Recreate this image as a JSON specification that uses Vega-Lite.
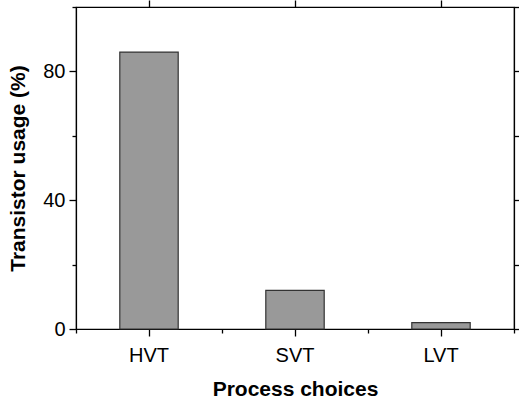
{
  "$schema": "https://vega.github.io/schema/vega-lite/v6.json",
  "width": 438,
  "height": 322,
  "autosize": {"type": "none"},
  "padding": {"left": 76, "top": 7, "right": 5, "bottom": 74},
  "background": "white",
  "config": {
    "view": {"stroke": "black", "strokeWidth": 1.2},
    "font": "Liberation Sans",
    "axis": {
      "domainColor": "black",
      "tickColor": "black",
      "tickWidth": 1.3,
      "domainWidth": 1.2,
      "labelColor": "black",
      "titleColor": "black",
      "grid": false,
      "labelFont": "Liberation Sans",
      "titleFont": "Liberation Sans"
    }
  },
  "data": {
    "values": [
      {"process": "HVT", "usage": 86},
      {"process": "SVT", "usage": 12},
      {"process": "LVT", "usage": 2}
    ]
  },
  "layer": [
    {
      "mark": {
        "type": "bar",
        "color": "#999999",
        "stroke": "#333333",
        "strokeWidth": 1.2,
        "width": {"band": 0.4}
      },
      "encoding": {
        "x": {
          "field": "process",
          "type": "nominal",
          "sort": ["HVT", "SVT", "LVT"],
          "scale": {"paddingInner": 0, "paddingOuter": 0},
          "axis": {
            "orient": "bottom",
            "title": "Process choices",
            "labelAngle": 0,
            "labelFontSize": 20,
            "labelPadding": 9,
            "ticks": true,
            "tickSize": 7,
            "titleFontSize": 21,
            "titleFontWeight": "bold",
            "titlePadding": 13
          }
        },
        "y": {
          "field": "usage",
          "type": "quantitative",
          "scale": {"domain": [0, 100], "nice": false},
          "axis": {
            "orient": "left",
            "title": "Transistor usage (%)",
            "values": [0, 40, 80],
            "labelFontSize": 20,
            "labelPadding": 4,
            "tickSize": 7,
            "titleFontSize": 21,
            "titleFontWeight": "bold",
            "titlePadding": 14
          }
        }
      }
    },
    {
      "mark": {"type": "point", "opacity": 0},
      "encoding": {
        "x": {
          "field": "process",
          "type": "nominal",
          "sort": ["HVT", "SVT", "LVT"],
          "axis": {
            "orient": "top",
            "title": null,
            "labels": false,
            "ticks": true,
            "tickSize": 7
          }
        },
        "y": {
          "field": "usage",
          "type": "quantitative",
          "axis": {
            "orient": "right",
            "title": null,
            "labels": false,
            "values": [0, 20, 40, 60, 80, 100],
            "tickSize": 5
          }
        }
      }
    },
    {
      "mark": {"type": "point", "opacity": 0},
      "encoding": {
        "x": {
          "field": "process",
          "type": "nominal",
          "sort": ["HVT", "SVT", "LVT"],
          "axis": {
            "orient": "bottom",
            "title": null,
            "labels": false,
            "domain": false,
            "ticks": true,
            "tickBand": "extent",
            "tickSize": 4
          }
        },
        "y": {
          "field": "usage",
          "type": "quantitative",
          "axis": {
            "orient": "left",
            "title": null,
            "labels": false,
            "domain": false,
            "values": [20, 60, 100],
            "tickSize": 4
          }
        }
      }
    }
  ],
  "resolve": {"axis": {"x": "independent", "y": "independent"}}
}
